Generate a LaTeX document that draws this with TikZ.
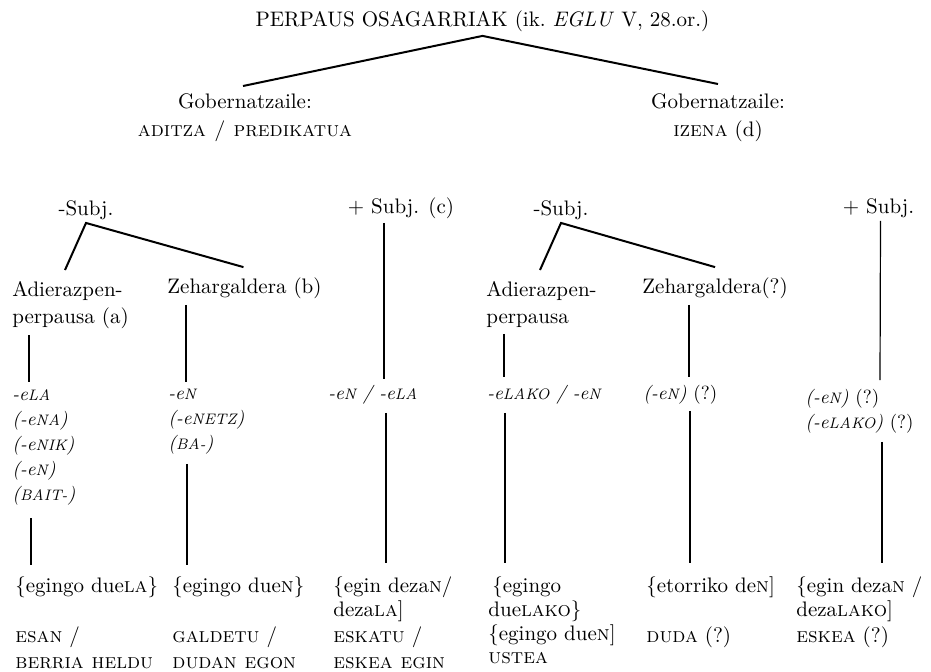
\documentclass[tikz,border=0pt]{standalone}
\newcommand{\isc}[1]{{\fontsize{7.6}{9}\selectfont #1}}

\begin{document}
\begin{tikzpicture}[x=0.5pt, y=-0.5pt,
  txt/.style={inner sep=0pt, align=center, font=\fontsize{10.5}{14}\selectfont},
  lbl/.style={inner sep=0pt, align=left, font=\fontsize{10.5}{13.5}\selectfont},
  suf/.style={inner sep=0pt, align=left, font=\fontsize{9.5}{12.5}\selectfont\itshape},
  ex/.style={inner sep=0pt, align=left, font=\fontsize{10.5}{12}\selectfont},
  lex/.style={inner sep=0pt, align=left, font=\fontsize{10.5}{13}\selectfont},
  branch/.style={line width=1pt},
  stem/.style={line width=0.6pt}]

\useasboundingbox (0,0) rectangle (931,671);

% goiko maila
\node[txt] (title) at (482.5,21) {PERPAUS OSAGARRIAK (ik.\ \textit{EGLU} V, 28.or.)};
\node[txt, anchor=north] (gobL) at (245,93) {Gobernatzaile:\\ \textsc{aditza / predikatua}};
\node[txt, anchor=north] (gobR) at (718,93) {Gobernatzaile:\\ \textsc{izena} (d)};

% subjuntiboa
\node[txt] (subjL) at (86,210) {-Subj.};
\node[txt] (subjcL) at (401,208) {+ Subj. (c)};
\node[txt] (subjR) at (561,210) {-Subj.};
\node[txt] (subjcR) at (878.5,208) {+ Subj.};

% perpaus motak
\node[lbl, anchor=north west] (adiL) at (12,281) {Adierazpen-\\perpausa (a)};
\node[lbl, anchor=west] (zehL) at (167,288) {Zehargaldera (b)};
\node[lbl, anchor=north west] (adiR) at (486,281) {Adierazpen-\\perpausa};
\node[lbl, anchor=west] (zehR) at (642,288) {Zehargaldera(?)};

% atzizkiak
\node[suf, anchor=north west] (sufA) at (12,389)
  {-e\isc{LA}\\(-e\isc{NA})\\(-e\isc{NIK})\\(-e\isc{N})\\(\isc{BAIT-})};
\node[suf, anchor=north west] (sufB) at (168,389) {-e\isc{N}\\(-e\isc{NETZ})\\(\isc{BA-})};
\node[suf, anchor=west] (sufC) at (328,395) {-e\isc{N} / -e\isc{LA}};
\node[suf, anchor=west] (sufD) at (487,395) {-e\isc{LAKO} / -e\isc{N}};
\node[suf, anchor=west] (sufE) at (643,395) {(-e\isc{N}) \textup{(?)}};
\node[suf, anchor=north west] (sufF) at (805,389)
  {(-e\isc{N}) \textup{(?)}\\(-e\isc{LAKO}) \textup{(?)}};

% adibideak
\node[ex, anchor=north west] (exA) at (15,576) {\{egingo due\textsc{la}\}};
\node[ex, anchor=north west] (exB) at (172,576) {\{egingo due\textsc{n}\}};
\node[ex, anchor=north west] (exC) at (333,576) {\{egin deza\textsc{n}/\\deza\textsc{la}]};
\node[ex, anchor=north west] (exD) at (488,576)
  {\hspace{2pt}\{egingo\\due\textsc{lako}\}\\\{egingo due\textsc{n}]};
\node[ex, anchor=north west] (exE) at (646,576) {\{etorriko de\textsc{n}]};
\node[ex, anchor=north west] (exF) at (796,576) {\{egin deza\textsc{n} /\\deza\textsc{lako}]};

\node[lex, anchor=north west] (lexA) at (15,626) {\textsc{esan} /\\\textsc{berria heldu}};
\node[lex, anchor=north west] (lexB) at (172,626) {\textsc{galdetu} /\\\textsc{dudan egon}};
\node[lex, anchor=north west] (lexC) at (333,626) {\textsc{eskatu} /\\\textsc{eskea egin}};
\node[lex, anchor=north west] (lexD) at (488,652) {\textsc{ustea}};
\node[lex, anchor=north west] (lexE) at (646,626) {\textsc{duda} (?)};
\node[lex, anchor=north west] (lexF) at (796,626) {\textsc{eskea} (?)};

% adarrak
\draw[branch] ([xshift=-1pt,yshift=3.5pt]gobL.north) -- ([yshift=-2pt]title.south)
  -- ([yshift=4.5pt]gobR.north);
\draw[branch] ([xshift=26.5pt,yshift=5.5pt]adiL.north west) -- ([yshift=-1.5pt]subjL.south)
  -- ([xshift=-0.5pt,yshift=5pt]zehL.north);
\draw[branch] ([xshift=27pt,yshift=5.5pt]adiR.north west) -- ([yshift=-1.5pt]subjR.south)
  -- ([yshift=5pt]zehR.north);

% lerro bertikalak
\draw[stem] ([xshift=8.5pt,yshift=-3pt]adiL.south west) -- ([xshift=8.5pt,yshift=3.5pt]sufA.north west);
\draw[stem] ([xshift=9.5pt,yshift=-6.5pt]sufA.south west) -- ([xshift=8pt,yshift=5.5pt]exA.north west);
\draw[stem] ([xshift=9.5pt,yshift=-3pt]zehL.south west) -- ([xshift=9pt,yshift=3.5pt]sufB.north west);
\draw[stem] ([xshift=9.5pt,yshift=-4.5pt]sufB.south west) -- ([xshift=7.5pt,yshift=5.5pt]exB.north west);
\draw[stem] ([xshift=-8.5pt,yshift=-2pt]subjcL.south) -- ([xshift=28pt,yshift=3pt]sufC.north west);
\draw[stem] ([xshift=29pt,yshift=-4pt]sufC.south west) -- ([xshift=26.5pt,yshift=6.5pt]exC.north west);
\draw[stem] ([xshift=9pt,yshift=-3pt]adiR.south west) -- ([xshift=8.5pt,yshift=4pt]sufD.north west);
\draw[stem] ([xshift=9pt,yshift=-4pt]sufD.south west) -- ([xshift=8.5pt,yshift=6.5pt]exD.north west);
\draw[stem] ([xshift=23.5pt,yshift=-3pt]zehR.south west) -- ([xshift=23pt,yshift=4pt]sufE.north west);
\draw[stem] ([xshift=23.5pt,yshift=-3pt]sufE.south west) -- ([xshift=22pt,yshift=6.5pt]exE.north west);
\draw[stem] ([xshift=1pt,yshift=-1.5pt]subjcR.south) -- ([xshift=37.5pt,yshift=4.5pt]sufF.north west);
\draw[stem] ([xshift=38.5pt,yshift=-4pt]sufF.south west) -- ([xshift=43pt,yshift=6.5pt]exF.north west);
\end{tikzpicture}
\end{document}
